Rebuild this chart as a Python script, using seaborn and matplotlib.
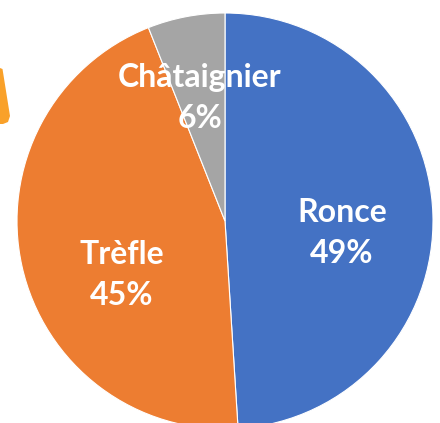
import matplotlib
matplotlib.use("Agg")
import matplotlib.pyplot as plt
import seaborn as sns
from matplotlib.patches import Polygon

categories = ["Ronce", "Trèfle", "Châtaignier"]
values = [49, 45, 6]
pct_labels = ["49%", "45%", "6%"]
colors = ["#4472C4", "#ED7D31", "#A5A5A5"]

sns.set_theme(style="white")
plt.rcParams["font.family"] = ["Lato", "DejaVu Sans"]

W, H = 440, 423
fig = plt.figure(figsize=(W / 100, H / 100), dpi=100)
fig.patch.set_facecolor("white")

# pie geometry (pixels): center (225, 221), radius 208
cx, cy, r = 225, 221, 208
ax = fig.add_axes([(cx - r) / W, (H - cy - r) / H, 2 * r / W, 2 * r / H])
wedges, _ = ax.pie(values, colors=colors, startangle=90, counterclock=False,
                   wedgeprops=dict(edgecolor="white", linewidth=0.8))
ax.set_xlim(-1, 1)
ax.set_ylim(-1, 1)
ax.set_aspect("equal")
ax.axis("off")

# label placement (layout, in pie data units)
label_pos = [(0.563, -0.06), (-0.495, -0.258), (-0.12, 0.59)]
for (x, y), cat, pct in zip(label_pos, categories, pct_labels):
    ax.text(x, y, f"{cat}\n{pct}", ha="center", va="center", color="white",
            fontsize=23, fontweight="bold", linespacing=1.5)

# small decorative orange shape cropped at left edge
fig.patches.append(Polygon([(0, 1 - 68 / H), (2.5 / W, 1 - 69 / H), (10 / W, 1 - 116 / H),
                            (8 / W, 1 - 122 / H), (3 / W, 1 - 124 / H), (0, 1 - 124 / H)],
                           closed=True, transform=fig.transFigure,
                           facecolor="#F9A12A", edgecolor="none"))

fig.savefig("out.png", dpi=100)
